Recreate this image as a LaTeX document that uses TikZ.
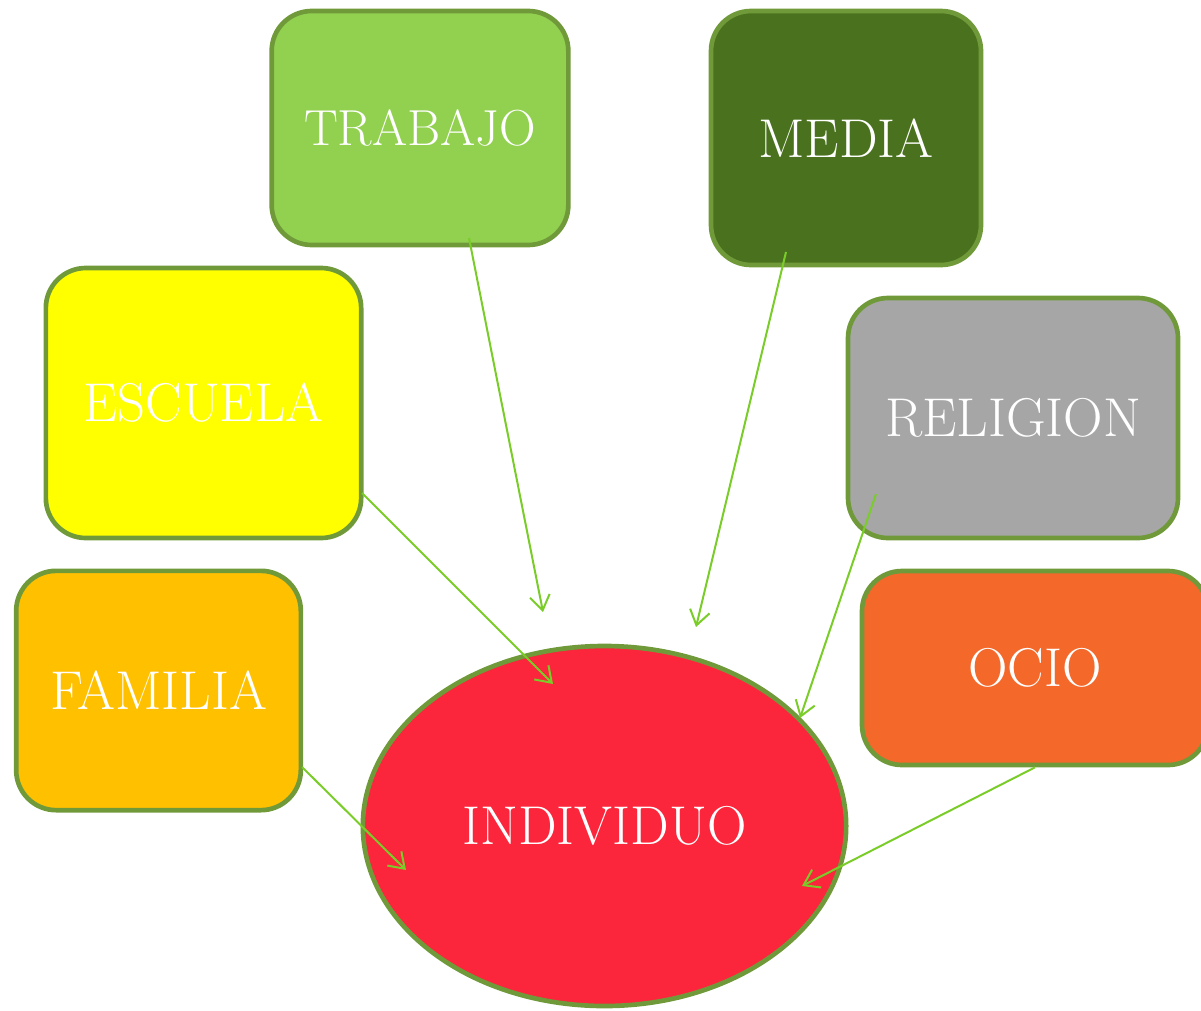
\documentclass[tikz,border=0pt]{standalone}
\usepackage{fontspec}
\usetikzlibrary{arrows.meta,shapes.geometric}
\definecolor{borde}{RGB}{112,154,58}
\definecolor{flecha}{RGB}{122,204,41}
\definecolor{trabajoc}{RGB}{146,208,80}
\definecolor{mediac}{RGB}{74,114,30}
\definecolor{escuelac}{RGB}{255,255,0}
\definecolor{religionc}{RGB}{166,166,166}
\definecolor{familiac}{RGB}{255,192,0}
\definecolor{ocioc}{RGB}{244,104,42}
\definecolor{individuoc}{RGB}{251,38,59}

\begin{document}
\begin{tikzpicture}[x=0.75pt,y=-0.75pt,
    caja/.style={draw=borde,line width=3.5pt,rounded corners=30pt,
        text=white,inner sep=0pt,font=\fontsize{41}{49}\selectfont},
    link/.style={draw=flecha,line width=1.5pt,
        -{Straight Barb[length=11pt,width=15pt]}}]
        \useasboundingbox (0,0) rectangle (1201,1010);

        \node[caja,fill=trabajoc,minimum width=222.5pt,minimum height=175.5pt,
            font=\fontsize{38}{46}\selectfont] (trabajo) at (420,128) {TRABAJO};
        \node[caja,fill=mediac,minimum width=202.5pt,minimum height=190.5pt] (media) at (846,138) {MEDIA};
        \node[caja,fill=escuelac,minimum width=236.5pt,minimum height=202.5pt] (escuela) at (203.5,403) {ESCUELA};
        \node[caja,fill=religionc,minimum width=247.5pt,minimum height=180pt] (religion) at (1013,418) {RELIGION};
        \node[caja,fill=familiac,minimum width=213.5pt,minimum height=179.5pt] (familia) at (158.5,690.5) {FAMILIA};
        \node[caja,fill=ocioc,minimum width=259.5pt,minimum height=145.5pt] (ocio) at (1035,668) {OCIO};
        \node[caja,ellipse,fill=individuoc,minimum width=362.5pt,minimum height=270pt] (individuo) at (604.5,826) {INDIVIDUO};

        % free ends of the arrows
        \coordinate (f-trabajo) at (543,612);
        \coordinate (f-media) at (696,627);
        \coordinate (f-escuela) at (553,684);
        \coordinate (f-religion) at (800,718);
        \coordinate (f-familia) at (406,870);
        \coordinate (f-ocio) at (802,886);

        \draw[link] ([shift={(49,110)}]trabajo.center) -- (f-trabajo);
        \draw[link] ([shift={(-60,114)}]media.center) -- (f-media);
        \draw[link] ([shift={(158.5,90)}]escuela.center) -- (f-escuela);
        \draw[link] ([shift={(-137,76)}]religion.center) -- (f-religion);
        \draw[link] ([shift={(143.5,76.5)}]familia.center) -- (f-familia);
        \draw[link] (ocio.south) -- (f-ocio);
\end{tikzpicture}
\end{document}
